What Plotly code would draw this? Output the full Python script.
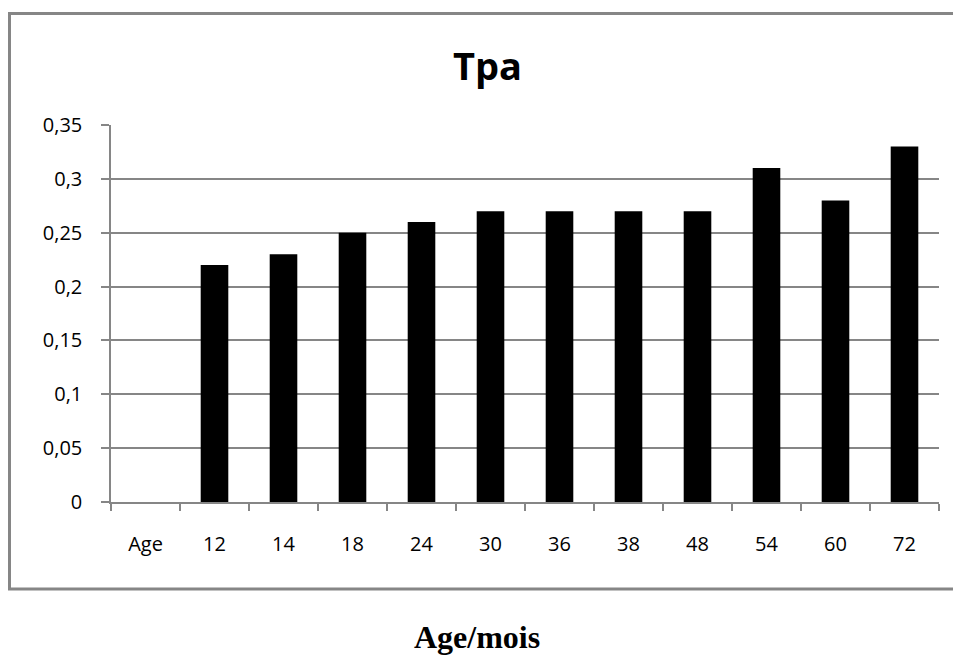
import plotly.graph_objects as go

categories = ["Age", "12", "14", "18", "24", "30", "36", "38", "48", "54", "60", "72"]
values = [None, 0.22, 0.23, 0.25, 0.26, 0.27, 0.27, 0.27, 0.27, 0.31, 0.28, 0.33]
y_ticks = [0, 0.05, 0.1, 0.15, 0.2, 0.25, 0.3, 0.35]
y_tick_labels = ["0", "0,05", "0,1", "0,15", "0,2", "0,25", "0,3", "0,35"]
title_text = "Tpa"
x_title = "Age/mois"

W, H = 953, 659
L, R, T, B = 111, 939, 125, 502
pw, ph = R - L, B - T

def px(x):
    return (x - L) / pw

def py(y):
    return (B - y) / ph

fig = go.Figure(go.Bar(x=categories, y=values, marker=dict(color="black", line=dict(width=0)), width=0.4))

gray = "#868686"
border = dict(color=gray, width=3)
fig.update_layout(
    width=W, height=H,
    margin=dict(l=L, r=W - R, t=T, b=H - B),
    plot_bgcolor="white", paper_bgcolor="white",
    showlegend=False,
    font=dict(family="Open Sans", color="black", size=20),
    xaxis=dict(type="category", showgrid=False, showline=True, linecolor=gray, linewidth=1.5,
               ticks="outside", tickson="boundaries", ticklen=7, tickcolor=gray, tickwidth=1.5,
               tickfont=dict(size=20, family="Open Sans", color="black"), ticklabelstandoff=23),
    yaxis=dict(range=[0, 0.35], tickvals=y_ticks, ticktext=y_tick_labels, showgrid=True,
               gridcolor=gray, gridwidth=1.5, showline=True, linecolor=gray, linewidth=1.5,
               ticks="outside", ticklen=8, tickcolor=gray, tickwidth=1.5, zeroline=False,
               tickfont=dict(size=20, family="Open Sans", color="black"), ticklabelstandoff=15),
    shapes=[
        dict(type="line", xref="paper", yref="paper", x0=px(8), x1=px(960), y0=py(13.5), y1=py(13.5), line=border),
        dict(type="line", xref="paper", yref="paper", x0=px(9.5), x1=px(9.5), y0=py(12), y1=py(590), line=border),
        dict(type="line", xref="paper", yref="paper", x0=px(8), x1=px(960), y0=py(589), y1=py(589), line=border),
    ],
    annotations=[
        dict(text="<b>" + title_text + "</b>", xref="paper", yref="paper", x=px(487), y=py(65),
             showarrow=False, font=dict(size=38, family="Open Sans", color="black"),
             xanchor="center", yanchor="middle"),
        dict(text="<b>" + x_title + "</b>", xref="paper", yref="paper", x=px(477), y=py(637),
             showarrow=False, font=dict(size=32, family="Liberation Serif", color="black"),
             xanchor="center", yanchor="middle"),
    ],
)

fig.write_html("out.html")
